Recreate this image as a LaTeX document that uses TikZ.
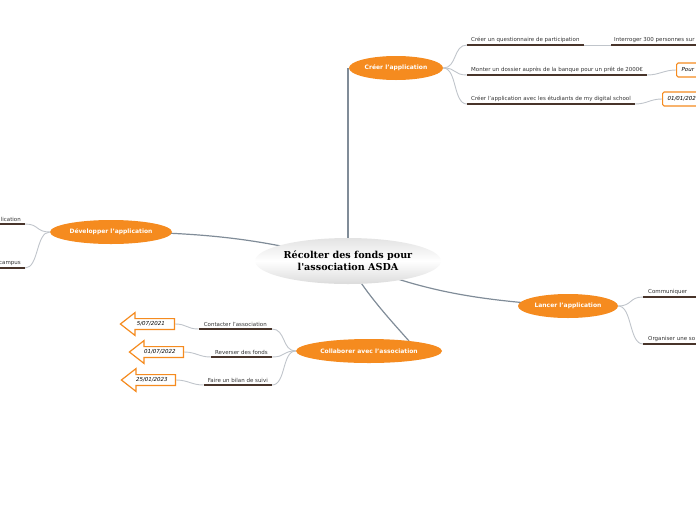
\documentclass[tikz,border=0pt]{standalone}
\usepackage{fontspec}
\setmainfont{DejaVu Sans}
\newfontfamily\rootfont{DejaVu Serif}
\usetikzlibrary{shapes.geometric,shapes.arrows,backgrounds,calc}

\definecolor{mmorange}{RGB}{245,139,31}
\definecolor{mmbrown}{RGB}{72,52,42}
\definecolor{mmbranch}{RGB}{128,140,152}
\definecolor{mmtwig}{RGB}{192,197,203}

\tikzset{
  topic/.style={ellipse, fill=mmorange, text=white, font=\bfseries\fontsize{6}{7}\selectfont, inner sep=0pt, minimum height=24pt},
  leaf/.style={font=\fontsize{5.5}{6.5}\selectfont, text=black!80, inner xsep=4pt, inner ysep=2pt},
  uline/.style={mmbrown, line width=1.6pt},
  branch/.style={mmbranch, line width=1.2pt},
  twig/.style={mmtwig, line width=0.9pt},
  datebox/.style={draw=mmorange, line width=1.2pt, rounded corners=1.5pt, fill=white, font=\itshape\fontsize{5.5}{6.5}\selectfont, inner xsep=5pt, minimum height=14pt, anchor=west},
  datearrow/.style={single arrow, shape border rotate=180, draw=mmorange, line width=1.2pt, fill=white, font=\itshape\fontsize{5.5}{6.5}\selectfont, minimum height=54pt, single arrow head extend=6pt, single arrow tip angle=76, inner ysep=2.5pt, anchor=tail}
}

\begin{document}
\begin{tikzpicture}[x=1pt,y=-1pt]
\useasboundingbox (0,0) rectangle (696,520);
\clip (0,0) rectangle (696,520);
\coordinate (edge) at (700,0);

\node[ellipse, inner sep=0pt, minimum width=186pt, minimum height=46pt, top color=gray!22, bottom color=gray!28, middle color=white, align=center, font=\rootfont\bfseries\fontsize{9.6}{12}\selectfont] (root) at (348,261) {Récolter des fonds pour\\l'association ASDA};

\node[topic, minimum width=94pt] (cre) at (396,68) {Créer l'application};
\node[topic, minimum width=122pt] (dev) at (111,232) {Développer l'application};
\node[topic, minimum width=100pt] (lan) at (568,306) {Lancer l'application};
\node[topic, minimum width=146pt] (col) at (369,351) {Collaborer avec l'association};

\node[leaf, anchor=south west] (q1) at (467,45) {Créer un questionnaire de participation};
\node[leaf, anchor=south west] (m1) at (467,75) {Monter un dossier auprès de la banque pour un prêt de 2000€};
\node[leaf, anchor=south west] (e1) at (467,104) {Créer l'application avec les étudiants de my digital school};
\node[leaf, anchor=south west, inner xsep=3pt] (i1) at (611,45) {Interroger 300 personnes sur};
\node[datebox, text width=30pt] (pour) at (676,70) {Pour};
\node[datebox, text width=40pt] (d01) at (662,99) {01/01/202};

\node[leaf, anchor=south east] (d1) at (25,224) {lication};
\node[leaf, anchor=south east] (d2) at (25,268) {campus};

\node[leaf, anchor=south west, inner xsep=5pt] (l1) at (643,297) {Communiquer};
\node[leaf, anchor=south west, inner xsep=5pt] (l2) at (643,344) {Organiser une so};

\node[leaf, anchor=south east, inner xsep=5pt] (ca) at (272,329) {Contacter l'association};
\node[leaf, anchor=south east] (rf) at (272,357) {Reverser des fonds};
\node[leaf, anchor=south east] (fb) at (272,385) {Faire un bilan de suivi};
\node[datearrow] (a1) at (175,324) {5/07/2021};
\node[datearrow] (a2) at (184,352) {01/07/2022};
\node[datearrow] (a3) at (176,380) {25/01/2023};

\foreach \n in {q1,m1,e1,d1,d2,ca,rf,fb}
  \draw[uline] (\n.south west) -- (\n.south east);
\foreach \n in {i1,l1,l2}
  \draw[uline] (\n.south west) -- (\n.south west -| edge);

\begin{scope}[on background layer]
\draw[branch] (root.center) -- (root.center |- cre.center);
\draw[branch] (dev.center) .. controls (230,232) and (280,245) .. (root.center);
\draw[branch] (root.center) .. controls (420,290) and (470,300) .. (lan.center);
\draw[branch] (root.center) .. controls (362,290) and (395,325) .. ($(col.center)+(40,-10)$);

\foreach \n in {q1,m1,e1}
  \draw[twig] (cre.east) .. controls +(14,0) and +(-14,0) .. (\n.south west);
\draw[twig] (q1.south east) -- (i1.south west);
\draw[twig] (m1.south east) .. controls +(12,0) and +(-12,0) .. (pour.west);
\draw[twig] (e1.south east) .. controls +(12,0) and +(-12,0) .. (d01.west);
\foreach \n in {d1,d2}
  \draw[twig] (dev.west) .. controls +(-14,0) and +(14,0) .. (\n.south east);
\foreach \n in {l1,l2}
  \draw[twig] (lan.east) .. controls +(14,0) and +(-14,0) .. (\n.south west);
\foreach \n in {ca,rf,fb}
  \draw[twig] (col.west) .. controls +(-14,0) and +(14,0) .. (\n.south east);
\draw[twig] (ca.south west) .. controls +(-12,0) and +(12,0) .. (a1.tail);
\draw[twig] (rf.south west) .. controls +(-12,0) and +(12,0) .. (a2.tail);
\draw[twig] (fb.south west) .. controls +(-12,0) and +(12,0) .. (a3.tail);
\end{scope}
\end{tikzpicture}
\end{document}
